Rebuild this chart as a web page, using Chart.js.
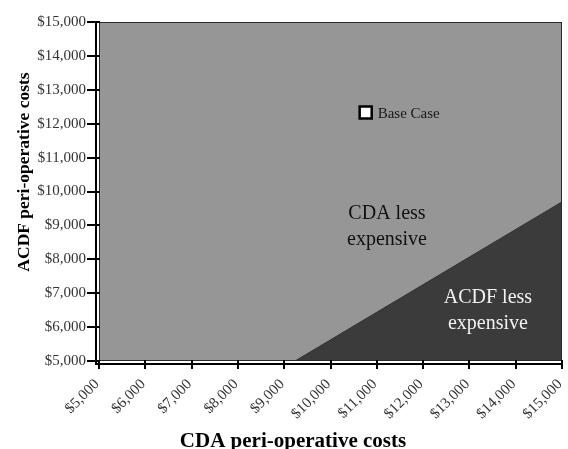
<!DOCTYPE html>
<html>
<head>
<meta charset="utf-8">
<script src="https://cdn.jsdelivr.net/npm/chart.js@4/dist/chart.umd.min.js"></script>
<style>
html,body{margin:0;padding:0;background:#fff;}
#wrap{width:568px;height:449px;}
</style>
</head>
<body>
<div id="wrap"><canvas id="c" width="568" height="449"></canvas></div>
<script>
// Data
const boundaryCDA  = [9233, 15000];   // CDA cost where both options cost the same
const boundaryACDF = [5000, 9694];    // matching ACDF cost
const baseCaseCDA  = [10760];
const baseCaseACDF = [12330];
const axisMin = 5000, axisMax = 15000, majorStep = 1000, minorStep = 500;
const regionLabels = [
  {lines: ['CDA less', 'expensive'], x: 11220, y: 8965, color: '#111'},
  {lines: ['ACDF less', 'expensive'], x: 13400, y: 6490, color: '#f2f2f2'}
];
const baseCaseLabel = 'Base Case';
const xTitle = 'CDA peri-operative costs';
const yTitle = 'ACDF peri-operative costs';

const SERIF = '"Liberation Serif", "Times New Roman", serif';
const money = v => (v % majorStep === 0) ? '$' + v.toLocaleString('en-US') : null;

const decor = {
  id: 'decor',
  beforeDatasetsDraw(chart) {
    const {ctx, chartArea: a} = chart;
    ctx.save();
    ctx.fillStyle = '#969696';
    ctx.fillRect(a.left, a.top, a.right - a.left, a.bottom - a.top);
    ctx.restore();
  },
  afterDatasetsDraw(chart) {
    const {ctx, chartArea: a, scales: {x, y}} = chart;
    ctx.save();
    // plot border
    ctx.strokeStyle = '#2a2a2a';
    ctx.lineWidth = 1;
    ctx.strokeRect(a.left + 0.5, a.top + 0.5, a.right - a.left - 1, a.bottom - a.top - 1);
    // white gap + axis lines
    ctx.fillStyle = '#fff';
    ctx.fillRect(a.left - 3, a.top - 1, 2, a.bottom - a.top + 4);
    ctx.fillRect(a.left - 3, a.bottom + 1, a.right - a.left + 3, 2);
    ctx.strokeStyle = '#000';
    ctx.lineWidth = 2;
    ctx.beginPath();
    ctx.moveTo(a.left - 3, a.top);
    ctx.lineTo(a.left - 3, a.bottom + 4);
    ctx.moveTo(a.left - 4, a.bottom + 3);
    ctx.lineTo(a.right, a.bottom + 3);
    ctx.stroke();
    // crossing tick marks
    ctx.lineWidth = 2;
    ctx.beginPath();
    x.ticks.forEach(t => {
      const px = Math.round(x.getPixelForValue(t.value));
      ctx.moveTo(px, a.bottom - 1);
      ctx.lineTo(px, a.bottom + 8);
    });
    y.ticks.forEach(t => {
      const py = Math.round(y.getPixelForValue(t.value));
      ctx.moveTo(a.left - 12, py);
      ctx.lineTo(a.left + 1, py);
    });
    ctx.stroke();
    // rotated x tick labels (labels come from the scale's own ticks)
    ctx.font = '15px ' + SERIF;
    ctx.fillStyle = '#333';
    ctx.textAlign = 'right';
    ctx.textBaseline = 'middle';
    x.ticks.forEach(t => {
      const lbl = money(t.value);
      if (!lbl) return;
      const px = x.getPixelForValue(t.value);
      ctx.save();
      ctx.translate(px - 2, a.bottom + 21);
      ctx.rotate(-Math.PI / 4);
      ctx.fillText(lbl, 0, 0);
      ctx.restore();
    });
    // region labels
    ctx.font = '20px ' + SERIF;
    ctx.textAlign = 'center';
    ctx.textBaseline = 'middle';
    regionLabels.forEach(r => {
      const cx = x.getPixelForValue(r.x), cy = y.getPixelForValue(r.y);
      ctx.fillStyle = r.color;
      r.lines.forEach((ln, i) => ctx.fillText(ln, cx, cy + (i - (r.lines.length - 1) / 2) * 26));
    });
    // base case label
    ctx.font = '15px ' + SERIF;
    ctx.textAlign = 'left';
    ctx.fillStyle = '#1a1a1a';
    ctx.fillText(baseCaseLabel, x.getPixelForValue(baseCaseCDA[0]) + 12, y.getPixelForValue(baseCaseACDF[0]) + 2);
    // axis titles
    ctx.fillStyle = '#000';
    ctx.font = 'bold 21px ' + SERIF;
    ctx.textAlign = 'center';
    ctx.textBaseline = 'alphabetic';
    ctx.fillText(xTitle, 293, 447);
    ctx.save();
    ctx.translate(24, 172);
    ctx.rotate(-Math.PI / 2);
    ctx.font = 'bold 17.5px ' + SERIF;
    ctx.textBaseline = 'middle';
    ctx.fillText(yTitle, 0, 0);
    ctx.restore();
    ctx.restore();
  }
};

new Chart(document.getElementById('c'), {
  type: 'scatter',
  data: {
    datasets: [
      {
        label: 'ACDF less expensive',
        data: boundaryCDA.map((v, i) => ({x: v, y: boundaryACDF[i]})),
        showLine: true,
        fill: 'start',
        backgroundColor: '#3b3b3b',
        borderColor: '#333',
        borderWidth: 1,
        pointRadius: 0,
        tension: 0
      },
      {
        label: 'Base Case',
        data: baseCaseCDA.map((v, i) => ({x: v, y: baseCaseACDF[i]})),
        pointStyle: 'rect',
        pointRadius: 8.5,
        pointBackgroundColor: '#fff',
        pointBorderColor: '#000',
        pointBorderWidth: 2.5
      }
    ]
  },
  plugins: [decor],
  options: {
    responsive: false,
    animation: false,
    devicePixelRatio: 1,
    layout: {autoPadding: false, padding: {left: 0, right: 6, top: 15, bottom: 0}},
    plugins: {legend: {display: false}, tooltip: {enabled: false}},
    scales: {
      x: {
        type: 'linear', min: axisMin, max: axisMax,
        afterFit: s => { s.height = 88; },
        grid: {display: false, drawTicks: false},
        border: {display: false},
        ticks: {
          display: false,
          stepSize: minorStep, autoSkip: false,
          callback: money
        }
      },
      y: {
        type: 'linear', min: axisMin, max: axisMax,
        afterFit: s => { s.width = 99; },
        grid: {display: false, drawTicks: false},
        border: {display: false},
        ticks: {
          stepSize: minorStep, autoSkip: false,
          padding: 13,
          color: '#333',
          font: {family: SERIF, size: 15},
          callback: money
        }
      }
    }
  }
});
</script>
</body>
</html>
